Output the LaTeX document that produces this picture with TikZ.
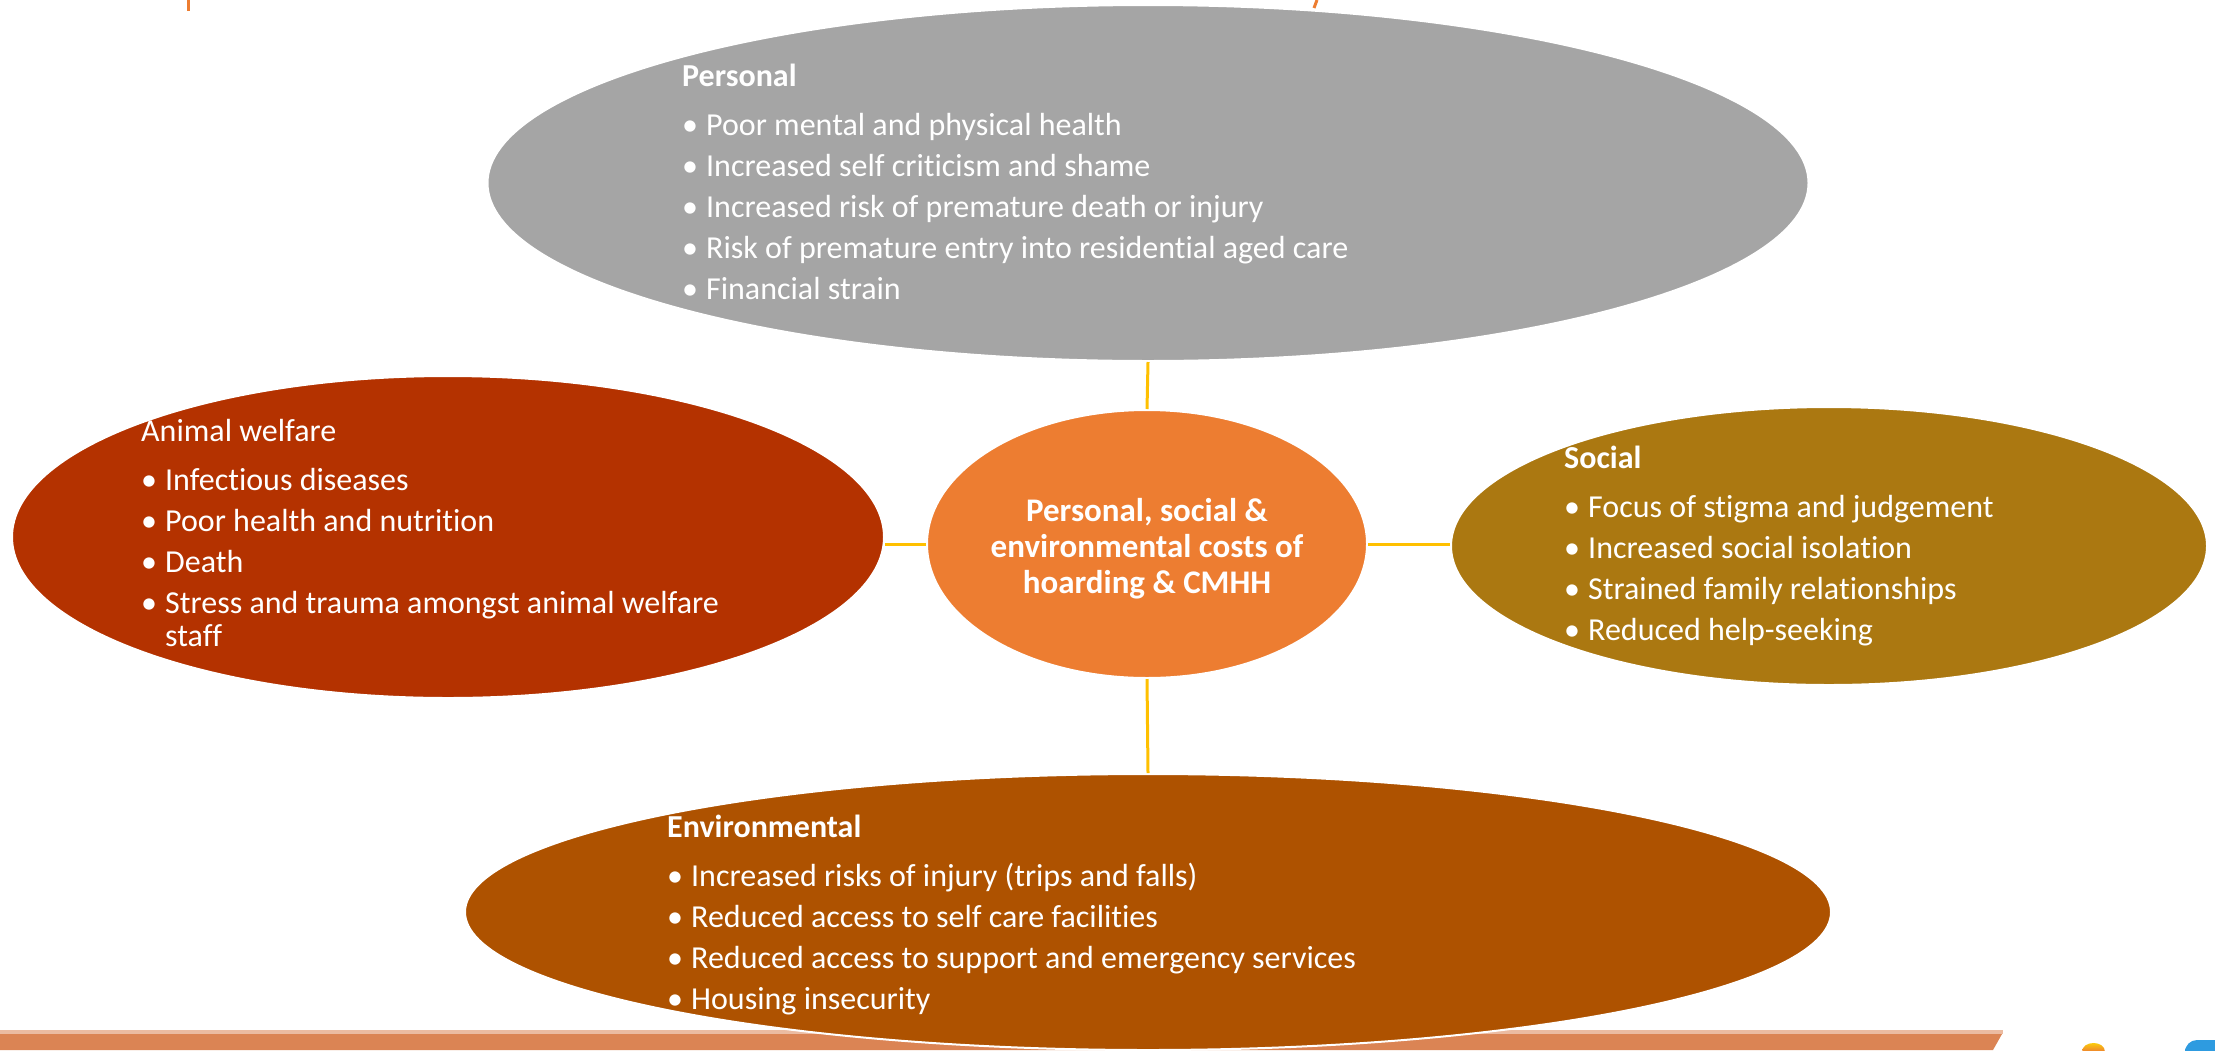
\documentclass[tikz,border=0pt]{standalone}
\usepackage{fontspec}
\setmainfont{Carlito}[Ligatures=NoCommon]
\usetikzlibrary{shapes.geometric}
\definecolor{costorange}{HTML}{ED7D31}
\definecolor{persgray}{HTML}{A5A5A5}
\definecolor{animalred}{HTML}{B43200}
\definecolor{socialgold}{HTML}{AB7811}
\definecolor{envbrown}{HTML}{AE5200}
\definecolor{linkyellow}{HTML}{FFC000}
\definecolor{stripcol}{HTML}{DB8454}
\definecolor{logoblue}{HTML}{2E9BE0}
\newcommand{\itm}[1]{\makebox[24pt][l]{\textbullet}#1}
\begin{document}
\begin{tikzpicture}[x=1pt,y=-1pt,
  blob/.style={ellipse,draw=white,line width=2pt,inner sep=0pt},
  list/.style={text=white,align=left,anchor=north west,inner sep=0pt,
    font=\fontsize{32}{33}\selectfont},
  link/.style={draw=linkyellow,line width=3pt}]
\useasboundingbox (0,0) rectangle (2215,1050);
\clip (0,0) rectangle (2215,1050);
%title bits and bottom band
\draw[costorange,line width=3pt] (188,0) -- (188,11);
\draw[costorange,line width=3pt] (1317,0) .. controls (1316,4) .. (1314,8);
\fill[stripcol!55!white] (0,1030) rectangle (2003,1034);
\fill[stripcol] (0,1034) -- (2002,1034) -- (1993,1050) -- (0,1050) -- cycle;
\shade[top color=yellow!80!orange,bottom color=costorange] (2082,1052) .. controls (2082,1040) and (2105,1040) .. (2105,1052) -- cycle;
\fill[logoblue,rounded corners=12pt] (2185,1060) -- (2185,1040) -- (2230,1040) -- (2230,1060) -- cycle;
%the five ellipses
\node[blob,fill=persgray,minimum width=1321pt,minimum height=356pt] (pers) at (1148,183) {};
\node[blob,fill=animalred,minimum width=872pt,minimum height=322pt] (animal) at (448,537) {};
\node[blob,fill=costorange,minimum width=440pt,minimum height=268pt] (cost) at (1147,544) {};
\node[blob,fill=socialgold,minimum width=756pt,minimum height=278pt] (soc) at (1829,546) {};
\node[blob,fill=envbrown,minimum width=1366pt,minimum height=276pt] (env) at (1148,912) {};
%links
\draw[link] (pers.south) -- (cost.north);
\draw[link] (env.north) -- (cost.south);
\draw[link] (cost.west) -- (cost.west -| animal.east);
\draw[link] (cost.east) -- (cost.east -| soc.west);
%texts
\node[text=white,align=center,font=\bfseries\fontsize{33}{36}\selectfont] (costtext) at (1147,549)
  {Personal, social \&\\ environmental costs of\\ hoarding \& CMHH};
\node[list] (perstext) at (682,64) {\textbf{Personal}\\[16pt]
  \itm{Poor mental and physical health}\\[8pt]
  \itm{Increased self criticism and shame}\\[8pt]
  \itm{Increased risk of premature death or injury}\\[8pt]
  \itm{Risk of premature entry into residential aged care}\\[8pt]
  \itm{Financial strain}};
\node[list] (animaltext) at (141,419) {Animal welfare\\[16pt]
  \itm{Infectious diseases}\\[8pt]
  \itm{Poor health and nutrition}\\[8pt]
  \itm{Death}\\[8pt]
  \itm{Stress and trauma amongst animal welfare}\\
  \hspace*{24pt}staff};
\node[list] (soctext) at (1564,446) {\textbf{Social}\\[16pt]
  \itm{Focus of stigma and judgement}\\[8pt]
  \itm{Increased social isolation}\\[8pt]
  \itm{Strained family relationships}\\[8pt]
  \itm{Reduced help-seeking}};
\node[list] (envtext) at (667,815) {\textbf{Environmental}\\[16pt]
  \itm{Increased risks of injury (trips and falls)}\\[8pt]
  \itm{Reduced access to self care facilities}\\[8pt]
  \itm{Reduced access to support and emergency services}\\[8pt]
  \itm{Housing insecurity}};
\end{tikzpicture}
\end{document}
